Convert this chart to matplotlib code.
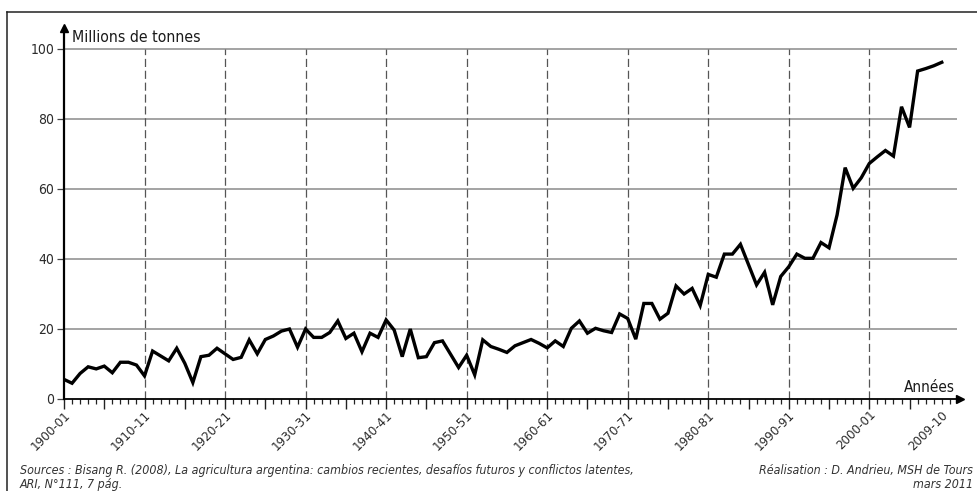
import matplotlib
matplotlib.use("Agg")
import matplotlib.pyplot as plt
from matplotlib.lines import Line2D
import numpy as np

# ---------------- data ----------------
years = list(range(1900, 2010))
production = [
    5.6, 4.5, 7.3, 9.2, 8.6, 9.4, 7.5, 10.5, 10.5, 9.7,      # 1900-1909
    6.6, 13.7, 12.3, 10.9, 14.5, 10.2, 4.7, 12.1, 12.5, 14.5,  # 1910-1919
    12.9, 11.3, 11.9, 16.9, 12.9, 17.0, 18.0, 19.4, 20.0, 14.8,  # 1920-1929
    20.0, 17.6, 17.6, 19.0, 22.3, 17.3, 18.8, 13.5, 18.8, 17.6,  # 1930-1939
    22.6, 19.7, 12.1, 20.0, 11.8, 12.1, 16.1, 16.6, 12.8, 9.0,   # 1940-1949
    12.5, 6.9, 16.9, 15.0, 14.2, 13.3, 15.2, 16.1, 17.0, 15.9,   # 1950-1959
    14.6, 16.6, 15.0, 20.2, 22.3, 18.8, 20.2, 19.5, 19.0, 24.3,  # 1960-1969
    23.0, 17.1, 27.3, 27.3, 22.8, 24.5, 32.3, 30.0, 31.6, 26.7,  # 1970-1979
    35.6, 34.8, 41.4, 41.4, 44.2, 38.4, 32.6, 36.2, 26.9, 35.0,  # 1980-1989
    37.8, 41.4, 40.2, 40.2, 44.7, 43.2, 52.6, 66.1, 60.2, 63.2,  # 1990-1999
    67.3, 69.2, 71.0, 69.4, 83.5, 77.6, 93.7, 94.4, 95.2, 96.2,  # 2000-2009
]
label_years = [1900, 1910, 1920, 1930, 1940, 1950, 1960, 1970, 1980, 1990, 2000, 2009]
label_texts = ["1900-01", "1910-11", "1920-21", "1930-31", "1940-41", "1950-51",
               "1960-61", "1970-71", "1980-81", "1990-91", "2000-01", "2009-10"]
decade_lines = [1910, 1920, 1930, 1940, 1950, 1960, 1970, 1980, 1990, 2000]
y_ticks = [0, 20, 40, 60, 80, 100]

plt.rcParams["font.family"] = ["DejaVu Sans"]
plt.rcParams["font.stretch"] = "condensed"

W, H = 978, 491
fig = plt.figure(figsize=(W / 100, H / 100), dpi=100)

def px(x, y):
    return x / W, 1 - y / H

left, bottom = 64 / W, (H - 399) / H
width, height = (960 - 64) / W, (399 - 28) / H
ax = fig.add_axes([left, bottom, width, height])
xmax = 1900 + (960 - 64) / 8.053
ax.set_xlim(1900, xmax)
ax.set_ylim(0, 106)

grid_end = 1900 + (957 - 64) / 8.053
ax.hlines(y_ticks[1:], 1900, grid_end, color="#8a8a8a", lw=1.1, zorder=1)
ax.vlines(decade_lines, 0, 100, color="#555555", lw=0.9,
          linestyles=(0, (6.5, 3.0)), zorder=1)

ax.plot(years, production, color="black", lw=2.4, solid_joinstyle="miter",
        zorder=3)

for s in ["top", "right"]:
    ax.spines[s].set_visible(False)
ax.spines["left"].set_linewidth(1.6)
ax.spines["bottom"].set_linewidth(1.3)

ax.plot([1], [0], marker=">", ms=6, color="black", transform=ax.transAxes,
        clip_on=False, zorder=5)
ax.plot([0], [1], marker="^", ms=6, color="black", transform=ax.transAxes,
        clip_on=False, zorder=5)

ax.set_xticks(np.arange(1900, 2010, 5))
ax.set_xticks(np.arange(1900, 2011, 1), minor=True)
ax.tick_params(axis="x", which="major", length=7, width=1.0, direction="out",
               labelbottom=False, color="#222222")
ax.tick_params(axis="x", which="minor", length=3.5, width=0.9, direction="out",
               color="#222222")
ax.set_yticks(y_ticks)
ax.set_yticklabels([str(v) for v in y_ticks])
ax.tick_params(axis="y", length=5, width=0.9, direction="out", pad=2,
               labelsize=10, labelcolor="#2b2b2b", color="#444444")

for yr, lab in zip(label_years, label_texts):
    ax.annotate(lab, xy=(yr, 0), xycoords="data", xytext=(3, -10),
                textcoords="offset points", rotation=45, ha="right",
                va="center", rotation_mode="anchor", fontsize=9.5,
                color="#2b2b2b")

fig.text(*px(72, 42), "Millions de tonnes", fontsize=11.3, ha="left",
         va="baseline", color="#1a1a1a")
fig.text(*px(955, 392), "Années", fontsize=11.0, ha="right",
         va="baseline", color="#1a1a1a")

NOTE = 8.9
fig.text(*px(20, 474),
         "Sources : Bisang R. (2008), La agricultura argentina: cambios recientes, "
         "desafíos futuros y conflictos latentes,",
         fontsize=NOTE, style="italic", ha="left", va="baseline", color="#333333")
fig.text(*px(20, 488), "ARI, N°111, 7 pág.", fontsize=NOTE, style="italic",
         ha="left", va="baseline", color="#333333")
fig.text(*px(973, 474), "Réalisation : D. Andrieu, MSH de Tours",
         fontsize=NOTE, style="italic", ha="right", va="baseline", color="#333333")
fig.text(*px(973, 488), "mars 2011", fontsize=NOTE, style="italic",
         ha="right", va="baseline", color="#333333")

fig.add_artist(Line2D([7 / W, 7 / W], [0, 1 - 12 / H], transform=fig.transFigure,
                      color="#222222", lw=1.1))
fig.add_artist(Line2D([7 / W, 1], [1 - 12 / H, 1 - 12 / H], transform=fig.transFigure,
                      color="#222222", lw=1.1))

fig.savefig("out.png", dpi=100)
